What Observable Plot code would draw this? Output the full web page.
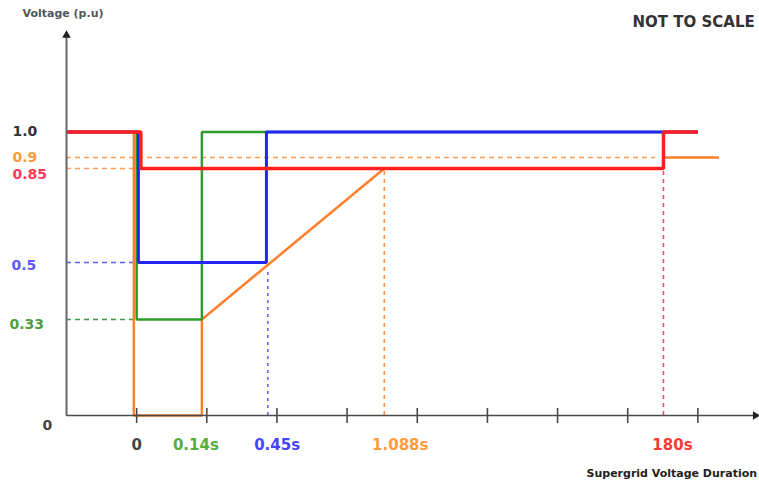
<!DOCTYPE html>
<html><head><meta charset="utf-8">
<script src="https://cdn.jsdelivr.net/npm/d3@7"></script>
<script src="https://cdn.jsdelivr.net/npm/@observablehq/plot@0.6"></script>
<style>body{margin:0;background:#fff}#chart svg{display:block}</style>
</head><body><div id="chart"></div>
<script>
// ---------- data (positions along x are "not to scale" slots) ----------
const yTickValues = [1, 0.9, 0.85, 0.5, 0.33, 0];
const yTickLabels = ["1.0", "0.9", "0.85", "0.5", "0.33", "0"];
const timeLabels = ["0", "0.14s", "0.45s", "1.088s", "180s"];
const timeSlots = [0, 0.93, 1.86, 3.53, 7.51];
const axisTicks = [0, 1, 2, 3, 4, 5, 6, 7, 8];

const orangeX = [-1, -0.04, -0.04, 0.93, 0.93, 3.53, 7.51, 7.51, 8.3];
const orangeY = [1, 1, 0, 0, 0.33, 0.85, 0.85, 0.9, 0.9];
const greenX = [-1, 0, 0, 0.93, 0.93, 8];
const greenY = [1, 1, 0.33, 0.33, 1, 1];
const blueX = [-1, 0.025, 0.025, 1.85, 1.85, 8];
const blueY = [1, 1, 0.5, 0.5, 1, 1];
const redX = [-1, 0.06, 0.06, 7.51, 7.51, 8];
const redY = [1, 1, 0.85, 0.85, 1, 1];

// guide lines (values)
const hGuideY = [0.9, 0.85, 0.5, 0.33];
const hGuideEnd = [7.4, 3.53, 0, 0];
const vGuideX = [1.87, 3.53, 7.51];
const vGuideTop = [0.47, 0.85, 0.85];

// ---------- styles ----------
const C = {orange: "#ff7f2a", green: "#2f9b2f", blue: "#2424ff", red: "#ff1f1f", axis: "#4a4a4a"};
const hGuideStyle = [
  {stroke: "#ff9a4c", dash: "5,4"}, {stroke: "#ff9a55", dash: "5,4"},
  {stroke: "#5a5aff", dash: "5,4"}, {stroke: "#3f9a3f", dash: "5,4"}];
const vGuideStyle = [
  {stroke: "#5a5aff", dash: "3,4"}, {stroke: "#ff9040", dash: "4,4"}, {stroke: "#ff4060", dash: "4,4"}];
const yLabelStyle = {
  "1.0": {fill: "#333", dx: -54, dy: 0}, "0.9": {fill: "#ff9a3c", dx: -54, dy: 0},
  "0.85": {fill: "#ff3d5a", dx: -54, dy: 6}, "0.5": {fill: "#5a5aff", dx: -55, dy: 3},
  "0.33": {fill: "#4e9e3e", dx: -57, dy: 5}, "0": {fill: "#444", dx: -24, dy: 10}};
const xLabelStyle = {
  "0": {fill: "#444", dx: 0}, "0.14s": {fill: "#58ad3a", dx: -6},
  "0.45s": {fill: "#4444ff", dx: 10}, "1.088s": {fill: "#ff9d3c", dx: 16},
  "180s": {fill: "#ff3838", dx: 9}};

const pts = (xs, ys) => xs.map((x, i) => ({x, y: ys[i]}));
const font = "DejaVu Sans";
const marks = [];

// horizontal dashed guides
hGuideY.forEach((y, i) => marks.push(Plot.ruleY([{y, x2: hGuideEnd[i]}], {
  y: "y", x1: -1, x2: "x2", stroke: hGuideStyle[i].stroke, strokeDasharray: hGuideStyle[i].dash, strokeWidth: 1.5})));
// vertical dashed guides
vGuideX.forEach((x, i) => marks.push(Plot.ruleX([{x, t: vGuideTop[i]}], {
  x: "x", y1: 0, y2: "t", stroke: vGuideStyle[i].stroke, strokeDasharray: vGuideStyle[i].dash, strokeWidth: 1.5})));

// series
const lineOpts = (stroke, w) => ({x: "x", y: "y", stroke, strokeWidth: w, strokeLinejoin: "miter", strokeLinecap: "butt"});
marks.push(Plot.line(pts(orangeX, orangeY), lineOpts(C.orange, 2.5)));
marks.push(Plot.line(pts(greenX, greenY), lineOpts(C.green, 2.5)));
marks.push(Plot.line(pts(blueX, blueY), lineOpts(C.blue, 3)));
marks.push(Plot.line(pts(redX, redY), lineOpts(C.red, 3.5)));

// axes with filled arrow heads
marks.push(Plot.ruleY([0], {x1: -1, x2: 8.82, stroke: C.axis, strokeWidth: 1.6}));
marks.push(Plot.ruleX([-1], {y1: 0, y2: 1.34, stroke: "#666", strokeWidth: 2}));
marks.push(Plot.dot([{x: 8.82, y: 0}], {x: "x", y: "y", symbol: "triangle", rotate: 90, r: 3.2, fill: "#222", stroke: "none"}));
marks.push(Plot.dot([{x: -1, y: 1.34}], {x: "x", y: "y", symbol: "triangle", r: 3.2, fill: "#222", stroke: "none"}));
marks.push(Plot.ruleX(axisTicks, {x: d => d, y1: 0, y2: 0, insetTop: -7, insetBottom: -8, stroke: C.axis, strokeWidth: 1.6}));

// y labels
yTickLabels.forEach((label, i) => marks.push(Plot.text([{label, v: yTickValues[i]}], {
  x: -1, y: "v", text: "label", textAnchor: "start", dx: yLabelStyle[label].dx, dy: yLabelStyle[label].dy,
  fill: yLabelStyle[label].fill, fontFamily: font, fontWeight: "bold", fontSize: 14})));
// x labels
timeLabels.forEach((label, i) => marks.push(Plot.text([{label, t: timeSlots[i]}], {
  x: "t", y: 0, text: "label", dx: xLabelStyle[label].dx, dy: 30,
  fill: xLabelStyle[label].fill, fontFamily: font, fontWeight: "bold", fontSize: 15})));

// annotations
marks.push(Plot.text(["Voltage (p.u)"], {frameAnchor: "top-left", dx: 22, dy: 13, textAnchor: "start", lineAnchor: "middle", fill: "#555", fontFamily: font, fontWeight: "bold", fontSize: 11}));
marks.push(Plot.text(["NOT TO SCALE"], {frameAnchor: "top-left", dx: 632, dy: 22, textAnchor: "start", lineAnchor: "middle", fill: "#333", fontFamily: font, fontWeight: "bold", fontSize: 15}));
marks.push(Plot.text(["Supergrid Voltage Duration"], {frameAnchor: "top-left", dx: 586, dy: 473, textAnchor: "start", lineAnchor: "middle", fill: "#222", fontFamily: font, fontWeight: "bold", fontSize: 11}));

const chart = Plot.plot({
  width: 759, height: 483,
  marginTop: 0, marginRight: 0, marginBottom: 0, marginLeft: 0,
  x: {type: "linear", domain: [-1, 8.85], range: [66, 757], axis: null},
  y: {type: "linear", domain: [0, 0.33, 0.5, 0.85, 0.9, 1, 1.36], range: [415, 319, 262, 168, 157, 131.5, 29], axis: null},
  style: {background: "#fff", overflow: "visible"},
  marks
});
document.getElementById("chart").appendChild(chart);
</script>
</body></html>
